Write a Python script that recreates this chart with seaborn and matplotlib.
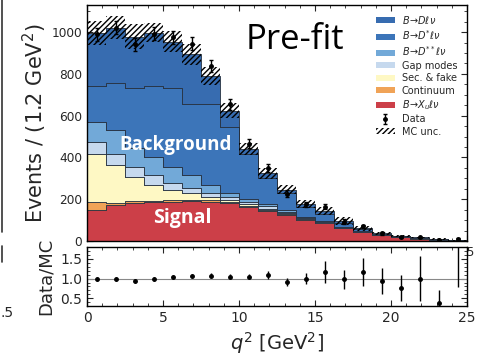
import numpy as np
import pandas as pd
import matplotlib
matplotlib.use("Agg")
import matplotlib.pyplot as plt
import seaborn as sns
from matplotlib.ticker import AutoMinorLocator, MultipleLocator
from matplotlib.patches import Patch
from matplotlib.lines import Line2D

# ---------------- data ----------------
bin_edges = [0.0, 1.25, 2.5, 3.75, 5.0, 6.25, 7.5, 8.75, 10.0, 11.25, 12.5,
             13.75, 15.0, 16.25, 17.5, 18.75, 20.0, 21.25, 22.5, 23.75, 25.0]
q2_centers = [(a + b) / 2 for a, b in zip(bin_edges[:-1], bin_edges[1:])]

comp_labels = [r"$B\!\rightarrow\!D\ell\nu$", r"$B\!\rightarrow\!D^{*}\ell\nu$",
               r"$B\!\rightarrow\!D^{**}\ell\nu$", "Gap modes", "Sec. & fake",
               "Continuum", r"$B\!\rightarrow\!X_u\ell\nu$"]
comp_colors = ["#376cb0", "#3c75b9", "#72a9d8", "#c6d9ee", "#fef8c4", "#f0a357", "#cc3f48"]

B_D      = [251, 264, 245, 254, 221, 235, 134, 79, 27, 24, 17, 13, 14, 8, 6, 4, 2, 2, 1, 0.5]
B_Dstar  = [173, 227, 290, 341, 378, 342, 390, 315, 215, 125, 81, 51, 35, 21, 9, 3.5, 2.5, 1.2, 1.7, 0.8]
B_Dss    = [99, 116, 88, 87, 80, 64, 36, 20, 12, 9, 10, 6, 5, 3, 2, 1, 0.5, 0.5, 0.3, 0.1]
gap      = [57, 51, 48, 48, 32, 24, 20, 16, 13, 12, 5, 3, 2, 1, 1, 0.5, 0.5, 0.3, 0.2, 0.1]
sec_fake = [230, 182, 118, 75, 49, 32, 18, 9, 6, 5, 3, 2, 2, 1, 1, 1, 0.5, 0.5, 0.3, 0.2]
continuum = [35, 10, 8, 7, 7, 6, 6, 5, 5, 4, 4, 3, 2, 2, 1, 1, 1, 0.5, 0.5, 0.3]
B_Xu     = [150, 172, 182, 186, 188, 190, 188, 180, 164, 145, 125, 100, 84, 60, 42, 27, 17, 12, 6, 2]

mc_unc   = [58, 55, 60, 46, 50, 48, 43, 36, 29, 26, 22, 19, 19, 17, 12, 7, 6, 4, 3, 2]

data_vals = [990, 1022, 941, 992, 975, 945, 838, 655, 465, 350, 227, 175, 165, 93, 70, 36, 18, 17, 4, 10]
data_err  = [31, 32, 31, 31, 31, 31, 29, 26, 22, 19, 15, 13, 13, 10, 9, 6, 4, 4, 2, 3]

ratio_vals = [1.0, 1.0, 0.94, 1.0, 1.03, 1.07, 1.07, 1.05, 1.05, 1.09, 0.92, 1.0, 1.17, 0.98,
              1.17, 0.94, 0.75, 1.0, 0.39, 2.5]
ratio_err  = [0.05, 0.05, 0.05, 0.05, 0.05, 0.05, 0.06, 0.06, 0.07, 0.09, 0.1, 0.15, 0.28, 0.25,
              0.35, 0.33, 0.33, 0.57, 0.31, 1.72]

components = [B_D, B_Dstar, B_Dss, gap, sec_fake, continuum, B_Xu]

rows = []
for lab, vals in zip(comp_labels, components):
    for c, v in zip(q2_centers, vals):
        rows.append({"q2": c, "component": lab, "count": v})
df = pd.DataFrame(rows)
mc_total = np.sum(np.array(components, dtype=float), axis=0)
unc = np.array(mc_unc, dtype=float)

# ---------------- figure ----------------
sns.set_style("ticks")
plt.rcParams["font.family"] = ["DejaVu Sans"]
plt.rcParams["hatch.linewidth"] = 1.0
plt.rcParams["hatch.color"] = "black"

fig = plt.figure(figsize=(4.81, 3.56), dpi=100)
ax = fig.add_axes([0.181, 0.323, 0.790, 0.663])
axr = fig.add_axes([0.181, 0.140, 0.790, 0.166], sharex=ax)

sns.histplot(data=df, x="q2", weights="count", hue="component", hue_order=comp_labels,
             palette=dict(zip(comp_labels, comp_colors)), bins=bin_edges,
             multiple="stack", element="step", alpha=1, edgecolor="#27313f",
             linewidth=0.6, legend=False, ax=ax)

# MC uncertainty hatch band
ax.bar(q2_centers, 2 * unc, bottom=mc_total - unc,
       width=bin_edges[1] - bin_edges[0], fill=False, hatch="//////",
       edgecolor="black", linewidth=0)

eb = ax.errorbar(q2_centers, data_vals, yerr=data_err, fmt="o", color="black",
                 ms=2.5, capsize=1.6, elinewidth=1, capthick=1, zorder=5)

ax.set_xlim(0, 25)
ax.set_ylim(0, 1130)
ax.set_xlabel("")
ax.set_ylabel(r"Events / (1.2 GeV$^2$)", fontsize=15)
ax.yaxis.set_label_coords(-0.100, 0.5)
ax.yaxis.set_major_locator(MultipleLocator(200))
ax.yaxis.set_minor_locator(AutoMinorLocator(4))
ax.xaxis.set_minor_locator(AutoMinorLocator(5))
ax.tick_params(axis="both", which="both", direction="in", top=True, right=True, labelsize=8.7)
ax.tick_params(which="major", length=4)
ax.tick_params(which="minor", length=2)
plt.setp(ax.get_xticklabels(), visible=False)

handles = [Patch(facecolor=c, edgecolor="none") for c in comp_colors]
handles += [eb, Patch(facecolor="none", edgecolor="black", hatch="//////", linewidth=0)]
labels = comp_labels + ["Data", "MC unc."]
ax.legend(handles, labels, loc="upper right", bbox_to_anchor=(0.984, 0.979), frameon=False,
          fontsize=7, handlelength=1.95, handleheight=0.55, handletextpad=0.7,
          labelspacing=0.25, borderaxespad=0.0)

ax.text(13.7, 962, "Pre-fit", fontsize=25, family=["Open Sans", "DejaVu Sans"],
        ha="center", va="center", color="black")
ax.text(5.8, 462, "Background", fontsize=13.5, family=["Open Sans", "DejaVu Sans"],
        fontweight="bold", ha="center", va="center", color="white")
ax.text(6.25, 110, "Signal", fontsize=14, family=["Open Sans", "DejaVu Sans"],
        fontweight="bold", ha="center", va="center", color="white")

# ratio panel
axr.axhline(1.0, color="#888888", lw=0.8, zorder=1)
axr.errorbar(q2_centers, ratio_vals, yerr=ratio_err, fmt="o", color="black",
             ms=2.5, capsize=0, elinewidth=1, zorder=5)
axr.set_ylim(0.3, 1.8)
axr.set_xlim(0, 25)
axr.yaxis.set_major_locator(MultipleLocator(0.5))
axr.yaxis.set_minor_locator(AutoMinorLocator(5))
axr.xaxis.set_major_locator(MultipleLocator(5))
axr.xaxis.set_minor_locator(AutoMinorLocator(5))
axr.tick_params(axis="both", which="both", direction="in", top=True, right=True, labelsize=10)
axr.tick_params(which="major", length=4)
axr.tick_params(which="minor", length=2)
axr.yaxis.set_major_formatter(matplotlib.ticker.FormatStrFormatter("%.1f"))
axr.set_ylabel("Data/MC", fontsize=13)
axr.yaxis.set_label_coords(-0.084, 0.5)
axr.set_xlabel(r"$q^2$ [GeV$^2$]", fontsize=14)

for a in (ax, axr):
    for s in a.spines.values():
        s.set_linewidth(1.0)
        s.set_color("black")

# cropped neighbour panel remnants at the left edge
fig.add_artist(Line2D([0.005, 0.005], [1.0, 0.348], color="#333333", lw=1.2))
fig.add_artist(Line2D([0.005, 0.005], [0.31, 0.265], color="#333333", lw=1.2))
fig.text(0.0, 0.12, ".5", fontsize=10, ha="left", va="center")

fig.savefig("out.png", dpi=100)
